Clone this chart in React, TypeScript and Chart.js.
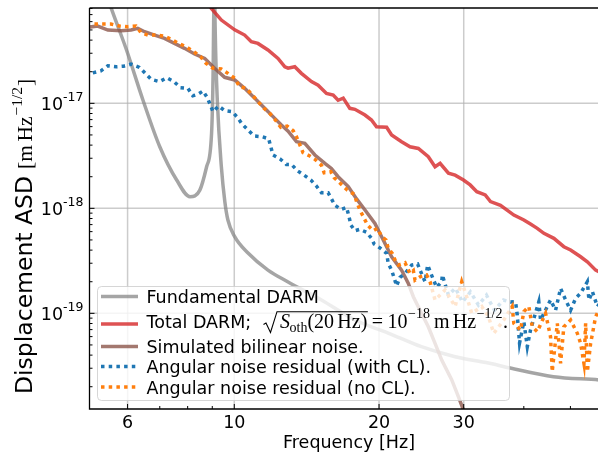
import { useEffect, useRef } from "react";
import { Chart, registerables } from "chart.js";

Chart.register(...registerables);

// ---------- axis ranges & ticks ----------
const X_MIN = 5;
const X_MAX = 60;
const Y_MIN = 1.227e-20;
const Y_MAX = 8.09e-17;

const xMajorTicks = [6, 10, 20, 30];
const xMajorLabels = ["6", "10", "20", "30"];
const xMinorTicks = [7, 8, 9, 40, 50];
const yMajorExps = [-17, -18, -19];
const yMinorTicks = [-20, -19, -18, -17].flatMap((e) =>
  [2, 3, 4, 5, 6, 7, 8, 9].map((m) => m * Math.pow(10, e))
);

// ---------- series ----------
const fundFreq = [5.25, 5.55, 5.97, 6.46, 7.0, 7.59, 8.09, 8.48, 8.76, 8.97, 9.04, 9.07, 9.09, 9.11, 9.13, 9.22, 9.4, 9.56, 9.7, 10.02, 10.68, 11.75, 12.94, 15.18, 17.82, 20.9, 24.5, 28.8, 33.8, 37.5, 46.1, 57.3, 60];
const fundAsd = [1.7e-16, 8.03e-17, 3.22e-17, 1.07e-17, 3.86e-18, 1.86e-18, 1.29e-18, 1.49e-18, 2.49e-18, 5.18e-18, 2.23e-17, 1e-16, 1e-15, 1e-16, 4.68e-17, 1.07e-17, 2.49e-18, 1.15e-18, 7.74e-19, 5.37e-19, 3.75e-19, 2.58e-19, 1.99e-19, 1.34e-19, 8.63e-20, 6.49e-20, 4.81e-20, 3.86e-20, 3.36e-20, 3.01e-20, 2.49e-20, 2.32e-20, 2.27e-20];

const totalFreq = [8.48, 8.96, 9.4, 10.02, 10.51, 10.85, 11.2, 11.75, 12.33, 12.74, 12.94, 13.36, 13.79, 14.47, 14.94, 15.55, 16.06, 16.44, 16.85, 17.39, 17.82, 18.7, 19.29, 19.76, 20.74, 21.24, 22.28, 23.2, 24.14, 25.32, 26.15, 26.79, 27.88, 28.79, 29.96, 30.94, 31.94, 33.25, 34.1, 35.77, 38.14, 40.01, 41.3, 42.66, 44.04, 46.19, 48.45, 50.04, 52.5, 54.22, 56.42, 57.27, 60.6];
const totalAsd = [1.2e-16, 8.03e-17, 6.21e-17, 5.01e-17, 4.47e-17, 3.86e-17, 3.72e-17, 3.22e-17, 2.68e-17, 2.23e-17, 2.16e-17, 2.23e-17, 1.93e-17, 1.61e-17, 1.49e-17, 1.24e-17, 1.2e-17, 1.07e-17, 1.12e-17, 8.96e-18, 8.77e-18, 7.74e-18, 6.93e-18, 5.98e-18, 5.91e-18, 4.99e-18, 4.31e-18, 3.86e-18, 3.72e-18, 3.1e-18, 2.49e-18, 2.68e-18, 2.16e-18, 2.07e-18, 1.86e-18, 1.67e-18, 1.44e-18, 1.34e-18, 1.16e-18, 1.07e-18, 8.63e-19, 7.74e-19, 7.08e-19, 6.45e-19, 5.78e-19, 5.18e-19, 4.31e-19, 4.01e-19, 3.46e-19, 3.1e-19, 2.58e-19, 2.49e-19, 2.26e-19];

const simFreq = [4.96, 5.2, 5.46, 5.82, 6.1, 6.3, 6.51, 6.83, 7.16, 7.51, 7.88, 8.27, 8.68, 9.1, 9.55, 10.02, 10.51, 11.03, 11.57, 12.14, 12.53, 12.94, 13.47, 14.02, 14.71, 15.43, 15.92, 16.44, 17.26, 17.96, 18.7, 19.61, 20.25, 21.24, 22.28, 23.01, 23.57, 24.34, 25.32, 26.15, 27.0, 28.33, 29.24, 29.96, 30.93];
const simAsd = [5.3e-17, 5.45e-17, 4.99e-17, 4.91e-17, 4.99e-17, 5.18e-17, 4.81e-17, 4.47e-17, 4.16e-17, 3.72e-17, 3.34e-17, 2.95e-17, 2.68e-17, 2.16e-17, 1.77e-17, 1.67e-17, 1.39e-17, 1.12e-17, 8.96e-18, 7.19e-18, 6.21e-18, 5.42e-18, 4.31e-18, 4.16e-18, 3.22e-18, 2.68e-18, 2.4e-18, 2.0e-18, 1.61e-18, 1.23e-18, 9.64e-19, 7.19e-19, 5.37e-19, 3.46e-19, 2.58e-19, 1.93e-19, 1.44e-19, 1.07e-19, 7.45e-20, 5.18e-20, 3.59e-20, 2.32e-20, 1.61e-20, 1.2e-20, 6.21e-21];

const clFreq = [5.08, 5.28, 5.46, 5.68, 5.89, 6.1, 6.35, 6.53, 6.72, 6.99, 7.24, 7.49, 7.73, 8.01, 8.2, 8.4, 8.61, 8.79, 8.93, 9.03, 9.28, 9.55, 9.9, 10.15, 10.38, 10.68, 10.99, 11.42, 11.79, 11.91, 12.04, 12.45, 12.83, 13.15, 13.53, 13.97, 14.43, 14.82, 15.18, 15.67, 16.19, 16.67, 17.12, 17.31, 17.48, 17.82, 18.25, 18.84, 19.29, 19.54, 19.93, 20.34, 20.74, 20.9, 21.24, 21.51, 21.75, 22.11, 22.65, 23.38, 24.06, 24.34, 24.93, 25.24, 25.66, 26.35, 27.0, 27.08, 27.88, 28.83, 29.82, 30.97, 32.19, 33.45, 34.75, 36.29, 37.53, 38.45, 38.76, 39.19, 40.01, 40.67, 41.3, 42.98, 43.34, 45.46, 46.57, 47.7, 48.87, 50.04, 51.26, 52.5, 54.22, 54.64, 55.54, 56.89, 59.2];
const clAsd = [1.95e-17, 2.04e-17, 2.28e-17, 2.23e-17, 2.26e-17, 2.36e-17, 2.2e-17, 1.93e-17, 1.69e-17, 1.61e-17, 1.75e-17, 1.61e-17, 1.41e-17, 1.39e-17, 1.18e-17, 1.22e-17, 1.31e-17, 1.13e-17, 9.49e-18, 8.32e-18, 9.42e-18, 8.51e-18, 8.32e-18, 7.36e-18, 6.35e-18, 5.57e-18, 4.89e-18, 4.81e-18, 4.6e-18, 3.86e-18, 3.22e-18, 2.96e-18, 2.62e-18, 2.62e-18, 2.28e-18, 2.07e-18, 1.86e-18, 1.63e-18, 1.41e-18, 1.41e-18, 1.07e-18, 9.77e-19, 1.02e-18, 8.45e-19, 6.93e-19, 6.12e-19, 6.31e-19, 5.91e-19, 5.18e-19, 4.57e-19, 4.31e-19, 4.01e-19, 3.72e-19, 2.99e-19, 2.58e-19, 2.16e-19, 1.82e-19, 2.2e-19, 2.4e-19, 2.88e-19, 2.95e-19, 2.58e-19, 2.0e-19, 2.88e-19, 2.37e-19, 1.77e-19, 2.0e-19, 2.32e-19, 1.49e-19, 1.74e-19, 1.28e-19, 1.6e-19, 1.2e-19, 1.49e-19, 1.07e-19, 1.34e-19, 1.28e-19, 1.29e-19, 9.64e-20, 5.21e-20, 8.32e-20, 4.81e-20, 6.93e-20, 1.29e-19, 8.63e-20, 1.34e-19, 1.07e-19, 1.73e-19, 1.34e-19, 1.07e-19, 1.39e-19, 1.55e-19, 2.0e-19, 1.34e-19, 1.61e-19, 1.16e-19, 1.49e-19];

const noClFreq = [5.12, 5.33, 5.54, 5.77, 6.0, 6.25, 6.4, 6.61, 6.88, 7.16, 7.39, 7.66, 7.94, 8.24, 8.51, 8.74, 9.03, 9.4, 9.7, 10.02, 10.26, 10.59, 10.85, 11.2, 11.53, 11.85, 12.14, 12.5, 12.88, 13.26, 13.47, 13.9, 14.36, 14.71, 15.18, 15.38, 15.88, 16.13, 16.7, 17.19, 17.76, 17.96, 18.25, 18.93, 19.45, 19.86, 20.25, 20.68, 20.9, 21.31, 21.59, 21.93, 22.65, 23.2, 23.57, 23.76, 24.34, 25.12, 25.53, 26.15, 27.44, 28.79, 29.71, 30.43, 31.17, 32.71, 33.77, 34.64, 36.34, 37.83, 38.14, 39.37, 40.01, 40.98, 41.66, 42.66, 44.39, 45.46, 45.83, 46.96, 47.7, 48.45, 50.04, 51.68, 52.5, 53.34, 53.78, 54.22, 55.08, 56.42, 57.27, 59.2];
const noClAsd = [5.69e-17, 5.69e-17, 5.69e-17, 5.45e-17, 5.37e-17, 5.45e-17, 4.7e-17, 4.47e-17, 4.47e-17, 4.37e-17, 4.07e-17, 3.72e-17, 3.46e-17, 3.1e-17, 2.78e-17, 2.4e-17, 2.16e-17, 2.12e-17, 1.93e-17, 1.73e-17, 1.44e-17, 1.39e-17, 1.23e-17, 1.04e-17, 8.96e-18, 8.03e-18, 7.05e-18, 5.91e-18, 6.08e-18, 5.48e-18, 4.81e-18, 3.39e-18, 3.15e-18, 2.93e-18, 2.57e-18, 2.18e-18, 2.23e-18, 1.96e-18, 1.69e-18, 1.49e-18, 1.36e-18, 1.16e-18, 9.64e-19, 6.93e-19, 6.12e-19, 6.45e-19, 5.37e-19, 4.99e-19, 4.16e-19, 3.72e-19, 3.22e-19, 2.88e-19, 3.03e-19, 2.4e-19, 2.55e-19, 2.07e-19, 2.23e-19, 2.32e-19, 2.0e-19, 1.34e-19, 1.67e-19, 1.16e-19, 2.0e-19, 1.44e-19, 1.0e-19, 1.16e-19, 9.29e-20, 6.45e-20, 8.63e-20, 1.16e-19, 8.03e-20, 6.93e-20, 1.04e-19, 1.16e-19, 7.45e-20, 6.68e-20, 1.0e-19, 5.98e-20, 2.78e-20, 8.03e-20, 3.34e-20, 7.45e-20, 8.63e-20, 6.45e-20, 5.18e-20, 3.34e-20, 8.03e-20, 2.78e-20, 5.18e-20, 9.29e-20, 1.07e-19, 8.8e-20];

// ---------- styles ----------
const SANS = '"DejaVu Sans", sans-serif';
const SERIF = '"Liberation Serif", "DejaVu Serif", serif';
const C_FUND = "rgba(127,127,127,0.7)";
const C_TOTAL = "rgba(214,39,40,0.8)";
const C_SIM = "rgba(140,86,75,0.8)";
const C_CL = "#1f77b4";
const C_NOCL = "#ff7f0e";
const LW = 3.5;
const DOT = [3.5, 4.2];
const GRID = "rgba(176,176,176,0.65)";

const pts = (fs: number[], vs: number[]) => fs.map((f, i) => ({ x: f, y: vs[i] }));

function txt(ctx: any, s: string, x: number, y: number, font: string, align = "left") {
  ctx.font = font;
  ctx.textAlign = align;
  ctx.textBaseline = "alphabetic";
  ctx.fillText(s, x, y);
  return ctx.measureText(s).width;
}

function drawLegend(ctx: any) {
  const bx = 97.5, by = 286.5, bw = 412, bh = 114, r = 4;
  ctx.save();
  ctx.beginPath();
  ctx.moveTo(bx + r, by);
  ctx.lineTo(bx + bw - r, by);
  ctx.quadraticCurveTo(bx + bw, by, bx + bw, by + r);
  ctx.lineTo(bx + bw, by + bh - r);
  ctx.quadraticCurveTo(bx + bw, by + bh, bx + bw - r, by + bh);
  ctx.lineTo(bx + r, by + bh);
  ctx.quadraticCurveTo(bx, by + bh, bx, by + bh - r);
  ctx.lineTo(bx, by + r);
  ctx.quadraticCurveTo(bx, by, bx + r, by);
  ctx.closePath();
  ctx.fillStyle = "rgba(255,255,255,0.8)";
  ctx.fill();
  ctx.strokeStyle = "rgba(204,204,204,0.8)";
  ctx.lineWidth = 1;
  ctx.stroke();

  const rows = [
    { y: 296.5, base: 302.5, color: C_FUND, dash: [] as number[] },
    { y: 324, base: 327.5, color: C_TOTAL, dash: [] as number[] },
    { y: 346.5, base: 352.5, color: C_SIM, dash: [] as number[] },
    { y: 366.5, base: 373, color: C_CL, dash: DOT },
    { y: 387, base: 393.5, color: C_NOCL, dash: DOT },
  ];
  for (const r0 of rows) {
    ctx.beginPath();
    ctx.setLineDash(r0.dash);
    ctx.lineCap = "butt";
    ctx.strokeStyle = r0.color;
    ctx.lineWidth = LW;
    ctx.moveTo(101, r0.y);
    ctx.lineTo(138, r0.y);
    ctx.stroke();
  }
  ctx.setLineDash([]);
  ctx.fillStyle = "#000";
  const f = `17.5px ${SANS}`;
  const m = `20px ${SERIF}`;
  const mi = `italic 20px ${SERIF}`;
  const ms = `14px ${SERIF}`;
  txt(ctx, "Fundamental DARM", 146.5, rows[0].base, f);
  const b2 = rows[1].base;
  txt(ctx, "Total DARM;", 146.5, b2, f);
  // math part, laid out piece by piece
  let cx = 280;
  cx += txt(ctx, "S", cx, b2, mi);
  cx += txt(ctx, "oth", cx - 0.5, b2 + 4, ms) - 0.5;
  cx += txt(ctx, "(20", cx, b2, m);
  cx += 3.3;
  cx += txt(ctx, "Hz)", cx, b2, m);
  const radEnd = cx + 0.5;
  // radical sign
  ctx.beginPath();
  ctx.strokeStyle = "#000";
  ctx.lineWidth = 1.1;
  ctx.moveTo(263.5, b2 - 3);
  ctx.lineTo(266, b2 - 4.5);
  ctx.lineTo(270.5, b2 + 5);
  ctx.lineTo(277, 311.7);
  ctx.lineTo(radEnd, 311.7);
  ctx.stroke();
  cx += 4.5;
  cx += txt(ctx, "=", cx, b2, m);
  cx += 4.5;
  cx += txt(ctx, "10", cx, b2, m);
  cx += txt(ctx, "\u221218", cx + 0.5, b2 - 10, ms) + 0.5;
  cx += 4;
  cx += txt(ctx, "m", cx, b2, m);
  cx += 3.3;
  cx += txt(ctx, "Hz", cx, b2, m);
  cx += txt(ctx, "\u22121/2", cx + 0.5, b2 - 10, ms) + 0.5;
  txt(ctx, ".", cx + 0.5, b2, m);
  txt(ctx, "Simulated bilinear noise.", 146.5, rows[2].base, f);
  txt(ctx, "Angular noise residual (with CL).", 146.5, rows[3].base, f);
  txt(ctx, "Angular noise residual (no CL).", 146.5, rows[4].base, f);
  ctx.restore();
}

const framePlugin = {
  id: "frame",
  beforeDatasetsDraw(chart: any) {
    const { ctx, chartArea: a, scales } = chart;
    const x = scales.x, y = scales.y;
    ctx.save();
    ctx.strokeStyle = GRID;
    ctx.lineWidth = 1.5;
    for (const v of xMajorTicks) {
      const px = x.getPixelForValue(v);
      ctx.beginPath();
      ctx.moveTo(px, a.top);
      ctx.lineTo(px, a.bottom);
      ctx.stroke();
    }
    for (const e of yMajorExps) {
      const py = y.getPixelForValue(Math.pow(10, e));
      ctx.beginPath();
      ctx.moveTo(a.left, py);
      ctx.lineTo(a.right, py);
      ctx.stroke();
    }
    ctx.restore();
  },
  afterDraw(chart: any) {
    const { ctx, chartArea: a, scales } = chart;
    const x = scales.x, y = scales.y;
    ctx.save();
    // spines
    ctx.strokeStyle = "#000";
    ctx.lineWidth = 1.3;
    ctx.beginPath();
    ctx.moveTo(a.left, a.top);
    ctx.lineTo(a.right, a.top);
    ctx.moveTo(a.left, a.top);
    ctx.lineTo(a.left, a.bottom);
    ctx.lineTo(a.right, a.bottom);
    ctx.stroke();
    // ticks (inward)
    ctx.lineWidth = 1;
    ctx.beginPath();
    for (const v of xMajorTicks) {
      const px = x.getPixelForValue(v);
      ctx.moveTo(px, a.bottom);
      ctx.lineTo(px, a.bottom - 5);
    }
    for (const v of xMinorTicks) {
      const px = x.getPixelForValue(v);
      ctx.moveTo(px, a.bottom);
      ctx.lineTo(px, a.bottom - 3);
    }
    for (const e of yMajorExps) {
      const py = y.getPixelForValue(Math.pow(10, e));
      ctx.moveTo(a.left, py);
      ctx.lineTo(a.left + 5, py);
    }
    for (const v of yMinorTicks) {
      if (v < Y_MIN || v > Y_MAX) continue;
      const py = y.getPixelForValue(v);
      ctx.moveTo(a.left, py);
      ctx.lineTo(a.left + 3, py);
    }
    ctx.stroke();
    // tick labels
    ctx.fillStyle = "#000";
    xMajorTicks.forEach((v, i) => {
      txt(ctx, xMajorLabels[i], x.getPixelForValue(v), 427.5, `17.5px ${SANS}`, "center");
    });
    for (const e of yMajorExps) {
      const py = y.getPixelForValue(Math.pow(10, e));
      ctx.font = `17.5px ${SANS}`;
      const w1 = ctx.measureText("10").width;
      ctx.font = `12.5px ${SANS}`;
      const sup = String(e);
      const w2 = ctx.measureText(sup).width;
      const sx = 83.5 - w1 - w2;
      txt(ctx, "10", sx, py + 6.4, `17.5px ${SANS}`);
      txt(ctx, sup, sx + w1, py - 2.6, `12.5px ${SANS}`);
    }
    // axis titles
    txt(ctx, "Frequency [Hz]", (a.left + a.right) / 2, 447.5, `17.5px ${SANS}`, "center");
    ctx.save();
    ctx.translate(32, 394);
    ctx.rotate(-Math.PI / 2);
    let cx = 0;
    cx += txt(ctx, "Displacement ASD", cx, 0, `23.5px ${SANS}`);
    cx += 7;
    cx += txt(ctx, "[", cx, 0, `21.5px ${SERIF}`);
    cx += txt(ctx, "m", cx, 0, `21.5px ${SERIF}`);
    cx += 3.5;
    cx += txt(ctx, "Hz", cx, 0, `21.5px ${SERIF}`);
    cx += 1;
    cx += txt(ctx, "\u22121/2", cx, -10, `15.5px ${SERIF}`);
    cx += 1;
    txt(ctx, "]", cx, 0, `21.5px ${SERIF}`);
    ctx.restore();
    drawLegend(ctx);
    ctx.restore();
  },
};

export default function App() {
  const ref = useRef<HTMLCanvasElement | null>(null);
  useEffect(() => {
    const canvas = ref.current;
    if (!canvas) return;
    const common = { pointRadius: 0, borderWidth: LW, clip: 0, fill: false, borderCapStyle: "butt" };
    const chart = new Chart(canvas, {
      type: "line",
      data: {
        datasets: [
          { ...common, label: "Fundamental DARM", data: pts(fundFreq, fundAsd), borderColor: C_FUND, cubicInterpolationMode: "monotone", order: 5 },
          { ...common, label: "Total DARM", data: pts(totalFreq, totalAsd), borderColor: C_TOTAL, order: 4 },
          { ...common, label: "Simulated bilinear noise.", data: pts(simFreq, simAsd), borderColor: C_SIM, order: 3 },
          { ...common, label: "Angular noise residual (with CL).", data: pts(clFreq, clAsd), borderColor: C_CL, borderDash: DOT, order: 2 },
          { ...common, label: "Angular noise residual (no CL).", data: pts(noClFreq, noClAsd), borderColor: C_NOCL, borderDash: DOT, order: 1 },
        ],
      } as any,
      options: {
        responsive: false,
        animation: false,
        devicePixelRatio: 1,
        events: [],
        layout: { padding: { left: 0, top: 8, right: 3.5, bottom: 0 } },
        plugins: { legend: { display: false }, tooltip: { enabled: false }, title: { display: false } },
        scales: {
          x: {
            type: "logarithmic",
            min: X_MIN,
            max: X_MAX,
            bounds: "data",
            grid: { display: false },
            border: { display: false },
            ticks: { display: false },
            afterFit: (s: any) => { s.height = 45; },
          },
          y: {
            type: "logarithmic",
            min: Y_MIN,
            max: Y_MAX,
            bounds: "data",
            grid: { display: false },
            border: { display: false },
            ticks: { display: false },
            afterFit: (s: any) => { s.width = 89.5; },
          },
        },
      } as any,
      plugins: [framePlugin],
    });
    return () => chart.destroy();
  }, []);
  return (
    <div style={{ position: "fixed", left: 0, top: 0, width: 598, height: 454, overflow: "hidden", background: "#fff" }}>
      <canvas ref={ref} width={612} height={454} style={{ display: "block", width: 612, height: 454 }} />
    </div>
  );
}
